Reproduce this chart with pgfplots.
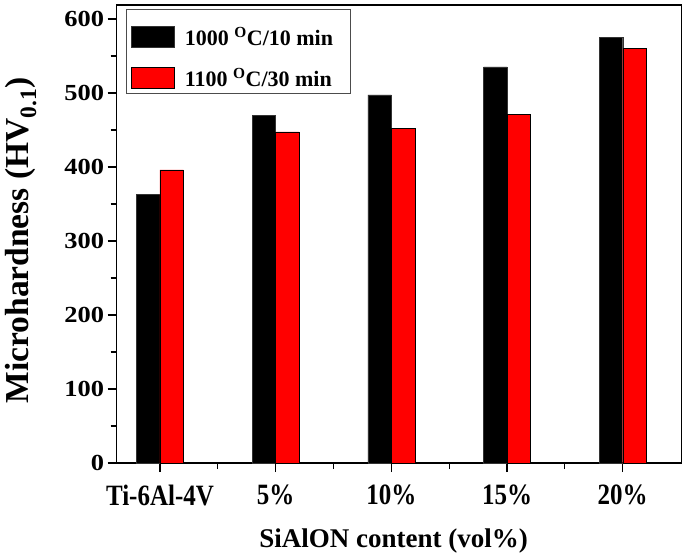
\documentclass[border=0pt]{standalone}
\usepackage{fontspec}
\setmainfont{Liberation Serif}
\usepackage{pgfplots}
\pgfplotsset{compat=1.18}
\newcommand{\st}[1]{\scalebox{1}[1.18]{#1}}
\begin{document}
\begin{tikzpicture}
\begin{axis}[
  name=ax,
  scale only axis,
  width=565pt, height=458pt,
  ybar=0pt, bar width=0.203,
  xmin=-0.374, xmax=4.51,
  ymin=0, ymax=619,
  xtick={0,1,2,3,4},
  xticklabels={\st{Ti-6Al-4V},\st{5\%},\st{10\%},\st{15\%},\st{20\%}},
  minor xtick={0.5,1.5,2.5,3.5},
  ytick={0,100,200,300,400,500,600},
  yticklabel={\scalebox{1.15}[1]{\pgfmathprintnumber{\tick}}},
  yticklabel style={font=\fontsize{23}{23}\selectfont\bfseries},
  minor ytick={50,150,250,350,450,550},
  tick pos=left,
  tick align=outside,
  major tick length=9pt,
  minor tick length=6pt,
  every tick/.style={black, line width=1.2pt},
  axis line style={line width=1.3pt},
  /pgf/number format/assume math mode=true,
  xticklabel style={font=\fontsize{25}{25}\selectfont\bfseries, yshift=-9pt},
  xlabel={SiAlON content (vol\%)},
  ylabel={Microhardness (HV\textsubscript{0.1})},
  xlabel style={font=\fontsize{27}{27}\selectfont\bfseries, at={(axis description cs:0.49,-0.1700)}, anchor=center},
  ylabel style={font=\fontsize{33.5}{33.5}\selectfont\bfseries, at={(axis description cs:-0.1693,0.486)}, anchor=center},
  legend style={at={(0,1)}, anchor=north west, xshift=9pt, yshift=-4pt,
    draw=gray!60!black, line width=0.8pt, font=\fontsize{22}{22}\selectfont\bfseries,
    row sep=4.5pt, inner xsep=5pt, inner ysep=3pt, cells={anchor=west}},
  legend image code/.code={\draw[#1, line width=0.8pt] (0pt,-10.5pt) rectangle (43pt,10.5pt); \path (51pt,24.5pt);},
]
\addplot[fill=black, draw=black!80] coordinates {(0,363) (1,470) (2,497.5) (3,535.5) (4,575)};
\addplot[fill=red, draw=black] coordinates {(0,396) (1,447.5) (2,452) (3,471.5) (4,560)};
\legend{1000 \textsuperscript{O}C/10 min\hspace*{10pt}, 1100 \textsuperscript{O}C/30 min\hspace*{10pt}}
\end{axis}
\pgfresetboundingbox
\path[use as bounding box] ([shift={(-116.7pt,-91.3pt)}]ax.south west) rectangle ([shift={(3.3pt,5pt)}]ax.north east);
\end{tikzpicture}
\end{document}
